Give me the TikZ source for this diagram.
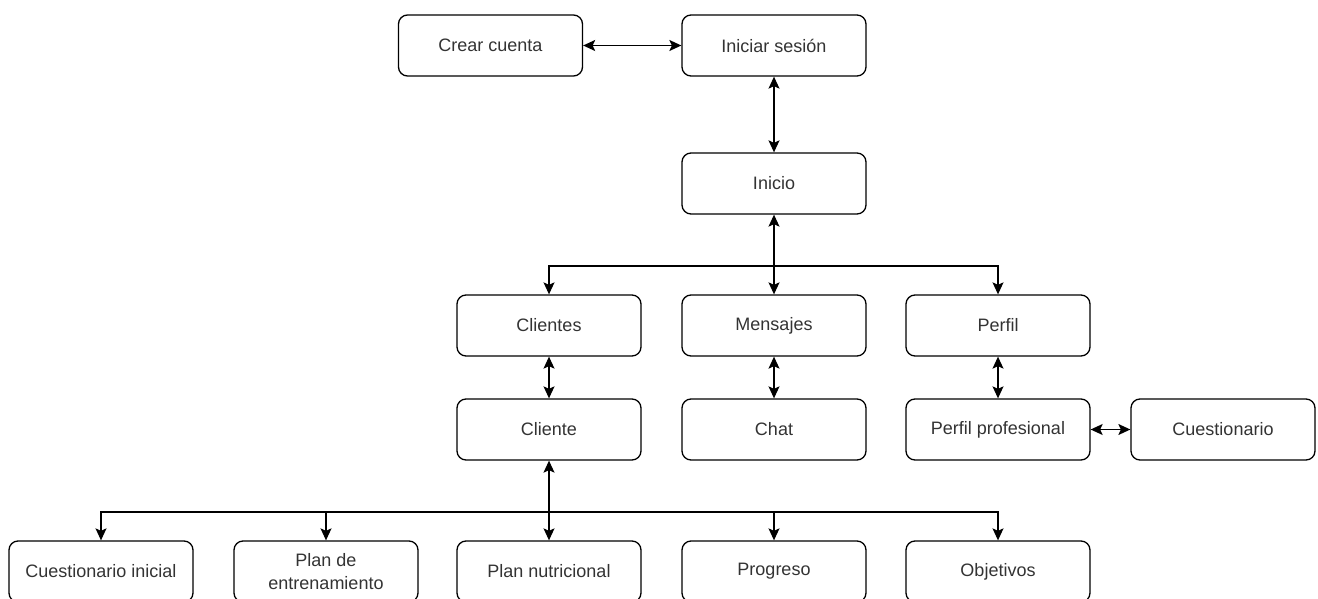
\documentclass[tikz,border=0pt]{standalone}
\usepackage{fontspec}
\setmainfont{Liberation Sans}
\usetikzlibrary{arrows.meta}
\definecolor{txt}{HTML}{333333}
\begin{document}
\begin{tikzpicture}[x=1pt,y=-1pt,
  box/.style={draw=black, rounded corners=9pt, minimum width=184pt, minimum height=61pt,
    inner sep=0pt, line width=1.3pt, text=txt, align=center,
    font=\fontsize{18}{23}\selectfont},
  link/.style={line width=1.3pt, draw=black},
  tip/.tip={Stealth[length=12pt,width=11pt,inset=2.5pt]}]
\useasboundingbox (0,0) rectangle (1318,599);
% nodes
\node[box] (crear)    at (490.5,45.5) {Crear cuenta};
\node[box] (iniciar)  at (774,45.5)   {Iniciar sesión};
\node[box] (inicio)   at (774,183.5)  {Inicio};
\node[box] (clientes) at (549,325.5)  {Clientes};
\node[box] (mensajes) at (774,325.5)  {Mensajes};
\node[box] (perfil)   at (998,325.5)  {Perfil};
\node[box] (cliente)  at (549,429.5)  {Cliente};
\node[box] (chat)     at (774,429.5)  {Chat};
\node[box] (perfprof) at (998,429.5)  {Perfil profesional};
\node[box] (cuest)    at (1223,429.5) {Cuestionario};
\node[box] (cini)     at (101,571.5)  {Cuestionario inicial};
\node[box] (plane)    at (326,571.5)  {Plan de\\entrenamiento};
\node[box] (plann)    at (549,571.5)  {Plan nutricional};
\node[box] (prog)     at (774,571.5)  {Progreso};
\node[box] (obj)      at (998,571.5)  {Objetivos};
\coordinate (bus1) at (774,266);
\coordinate (bus2) at (549,512);
% connectors
\draw[link,{tip}-{tip}] (crear.east) -- (iniciar.west);
\draw[link,{tip}-{tip}] (iniciar.south) -- (inicio.north);
\draw[link,{tip}-{tip}] (inicio.south) -- (mensajes.north);
\draw[link,-{tip}] (bus1) -| (clientes.north);
\draw[link,-{tip}] (bus1) -| (perfil.north);
\draw[link,{tip}-{tip}] (clientes.south) -- (cliente.north);
\draw[link,{tip}-{tip}] (mensajes.south) -- (chat.north);
\draw[link,{tip}-{tip}] (perfil.south) -- (perfprof.north);
\draw[link,{tip}-{tip}] (perfprof.east) -- (cuest.west);
\draw[link,{tip}-{tip}] (cliente.south) -- (plann.north);
\draw[link,-{tip}] (bus2) -| (cini.north);
\draw[link,-{tip}] (bus2) -| (plane.north);
\draw[link,-{tip}] (bus2) -| (prog.north);
\draw[link,-{tip}] (bus2) -| (obj.north);
\end{tikzpicture}
\end{document}
